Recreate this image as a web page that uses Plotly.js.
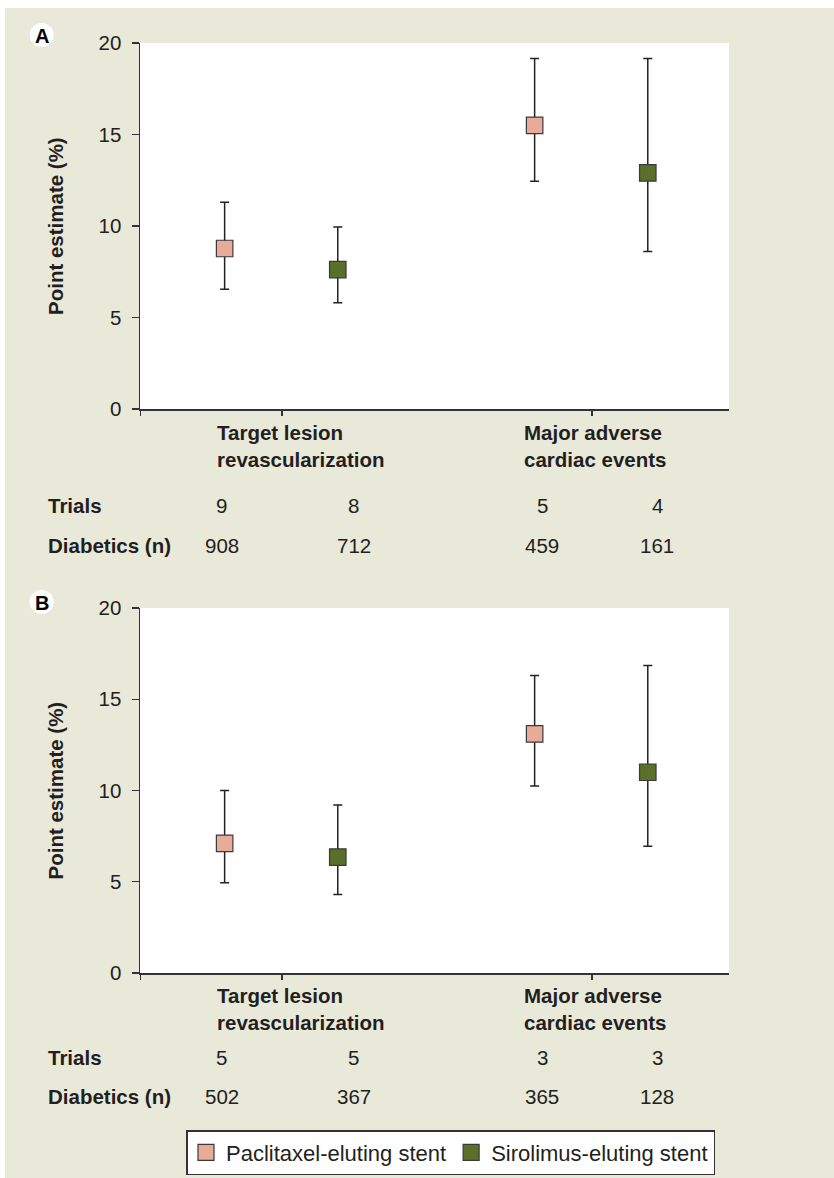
<!DOCTYPE html>
<html>
<head>
<meta charset="utf-8">
<script src="https://cdn.plot.ly/plotly-3.0.1.min.js"></script>
<style>
  html, body { margin: 0; padding: 0; background: #ffffff; }
  #chart { position: absolute; left: 5px; top: 8px; width: 829px; height: 1170px; }
</style>
</head>
<body>
<div id="chart"></div>
<script>
// ---------- data ----------
const categories = ["Target lesion<br>revascularization", "Major adverse<br>cardiac events"];
const seriesNames = ["Paclitaxel-eluting stent", "Sirolimus-eluting stent"];

// Panel A
const A_pacEst = [8.77, 15.5];
const A_pacLo  = [6.55, 12.45];
const A_pacHi  = [11.3, 19.15];
const A_sirEst = [7.62, 12.9];
const A_sirLo  = [5.8, 8.6];
const A_sirHi  = [9.95, 19.15];
const A_trials = [9, 8, 5, 4];
const A_diab   = [908, 712, 459, 161];

// Panel B
const B_pacEst = [7.1, 13.1];
const B_pacLo  = [4.95, 10.25];
const B_pacHi  = [10.0, 16.3];
const B_sirEst = [6.35, 11.0];
const B_sirLo  = [4.3, 6.95];
const B_sirHi  = [9.2, 16.85];
const B_trials = [5, 5, 3, 3];
const B_diab   = [502, 367, 365, 128];

const yTicks = [0, 5, 10, 15, 20];

// ---------- style / geometry ----------
const FONT = '"Liberation Sans", Arial, Helvetica, sans-serif';
const TXT = '#231f20';
const AX = '#333333';
const COLORS = ['#e9ab99', '#5c6f2a'];
const FS = 20.5;
const W = 829, H = 1170, ML = 135, MR = 105, MT = 35, MB = 205;
const PW = W - ML - MR, PH = H - MT - MB;
const px = xd => (xd - ML) / PW;
const py = yd => (H - MB - yd) / PH;
const XR = [-0.458, 1.442];
const SERIES_OFF = [-0.185, 0.18];
const COL_OFF = [[-0.194, 0.232], [-0.161, 0.21]];
const LABEL_OFF = [-0.215, -0.225];

function errTrace(est, lo, hi, s, xa, ya, show) {
  return {
    type: 'scatter', mode: 'markers',
    name: seriesNames[s], showlegend: show, legendgroup: 's' + s,
    x: est.map((_, i) => i + SERIES_OFF[s]), y: est,
    xaxis: xa, yaxis: ya,
    marker: { symbol: 'square', size: 16.5, color: COLORS[s], line: { color: '#3a3a3a', width: 1.2 } },
    error_y: {
      type: 'data', symmetric: false,
      array: hi.map((v, i) => v - est[i]),
      arrayminus: lo.map((v, i) => est[i] - v),
      color: '#222222', thickness: 1.5, width: 4.5
    },
    hoverinfo: 'skip'
  };
}

const data = [
  errTrace(A_pacEst, A_pacLo, A_pacHi, 0, 'x', 'y', true),
  errTrace(A_sirEst, A_sirLo, A_sirHi, 1, 'x', 'y', true),
  errTrace(B_pacEst, B_pacLo, B_pacHi, 0, 'x2', 'y2', false),
  errTrace(B_sirEst, B_sirLo, B_sirHi, 1, 'x2', 'y2', false)
];

function xAxis(anchor) {
  return {
    anchor: anchor, domain: [0, 1], range: XR, fixedrange: true,
    tickmode: 'array', tickvals: [XR[0] + 0.0005, 0, 1], ticktext: ['', '', ''],
    ticks: 'outside', ticklen: 5, tickwidth: 1.2, tickcolor: AX,
    showline: true, linecolor: AX, linewidth: 1.5, showgrid: false, zeroline: false
  };
}
function yAxis(anchor, dom) {
  return {
    anchor: anchor, domain: dom, range: [0, 20], fixedrange: true,
    tickmode: 'array', tickvals: yTicks, ticktext: yTicks.map(String),
    ticks: 'outside', ticklen: 7, tickwidth: 1.2, tickcolor: AX,
    ticklabelstandoff: 6,
    tickfont: { family: FONT, size: FS, color: TXT },
    showline: true, linecolor: AX, linewidth: 1.5, showgrid: false, zeroline: false
  };
}

const domA = [py(401), 1];
const domB = [0, py(600)];

const annotations = [];
const shapes = [];

function panel(xref, dom, trials, diab, labelY, trialsY, diabY, letter, cy) {
  categories.forEach((c, i) => annotations.push({
    xref: xref, yref: 'paper', x: i + LABEL_OFF[i], y: labelY,
    xanchor: 'left', yanchor: 'middle', align: 'left', showarrow: false,
    text: '<b>' + c + '</b>', font: { family: FONT, size: FS, color: TXT }
  }));
  [['Trials', trialsY], ['Diabetics (n)', diabY]].forEach(r => annotations.push({
    xref: 'paper', yref: 'paper', x: px(41), y: r[1], xanchor: 'left', yanchor: 'middle',
    showarrow: false, text: '<b>' + r[0] + '</b>', font: { family: FONT, size: FS, color: TXT }
  }));
  for (let k = 0; k < 4; k++) {
    const cat = Math.floor(k / 2), s = k % 2;
    const xv = cat + COL_OFF[cat][s];
    annotations.push({ xref: xref, yref: 'paper', x: xv, y: trialsY, xanchor: 'center', yanchor: 'middle',
      showarrow: false, text: String(trials[k]), font: { family: FONT, size: FS, color: TXT } });
    annotations.push({ xref: xref, yref: 'paper', x: xv, y: diabY, xanchor: 'center', yanchor: 'middle',
      showarrow: false, text: String(diab[k]), font: { family: FONT, size: FS, color: TXT } });
  }
  annotations.push({ xref: 'paper', yref: 'paper', x: px(50), y: (dom[0] + dom[1]) / 2,
    xanchor: 'center', yanchor: 'middle', textangle: -90, showarrow: false,
    text: '<b>Point estimate (%)</b>', font: { family: FONT, size: FS, color: TXT } });
  const cx = 36.7, r = 12;
  shapes.push({ type: 'circle', xref: 'paper', yref: 'paper', x0: px(cx - r), x1: px(cx + r),
    y0: py(cy + r), y1: py(cy - r), fillcolor: '#ffffff', line: { width: 0 }, layer: 'below' });
  annotations.push({ xref: 'paper', yref: 'paper', x: px(cx), y: py(cy + 0.5), xanchor: 'center', yanchor: 'middle',
    showarrow: false, text: '<b>' + letter + '</b>', font: { family: FONT, size: 20, color: '#000' } });
}

panel('x', domA, A_trials, A_diab, py(438), py(498), py(537), 'A', 27);
panel('x2', domB, B_trials, B_diab, py(1001), py(1049), py(1088), 'B', 594);

[['y domain', 'x domain'], ['y2 domain', 'x2 domain']].forEach(([yr, xr]) => shapes.push({
  type: 'rect', xref: xr, yref: yr, x0: 0, x1: 1, y0: 0, y1: 1,
  fillcolor: '#ffffff', line: { width: 0 }, layer: 'below'
}));

const layout = {
  width: W, height: H,
  margin: { l: ML, r: MR, t: MT, b: MB, pad: 0, autoexpand: false },
  paper_bgcolor: '#e9e9da', plot_bgcolor: 'rgba(0,0,0,0)',
  font: { family: FONT, size: FS, color: TXT },
  showlegend: true,
  legend: {
    orientation: 'h', x: px(181), y: py(1122), xanchor: 'left', yanchor: 'top',
    bgcolor: '#ffffff', bordercolor: '#333333', borderwidth: 1.5,
    font: { family: FONT, size: 22, color: TXT }, itemclick: false, itemdoubleclick: false
  },
  xaxis: xAxis('y'), yaxis: yAxis('x', domA),
  xaxis2: xAxis('y2'), yaxis2: yAxis('x2', domB),
  annotations: annotations, shapes: shapes
};

Plotly.newPlot('chart', data, layout, { displayModeBar: false, staticPlot: true });
</script>
</body>
</html>
